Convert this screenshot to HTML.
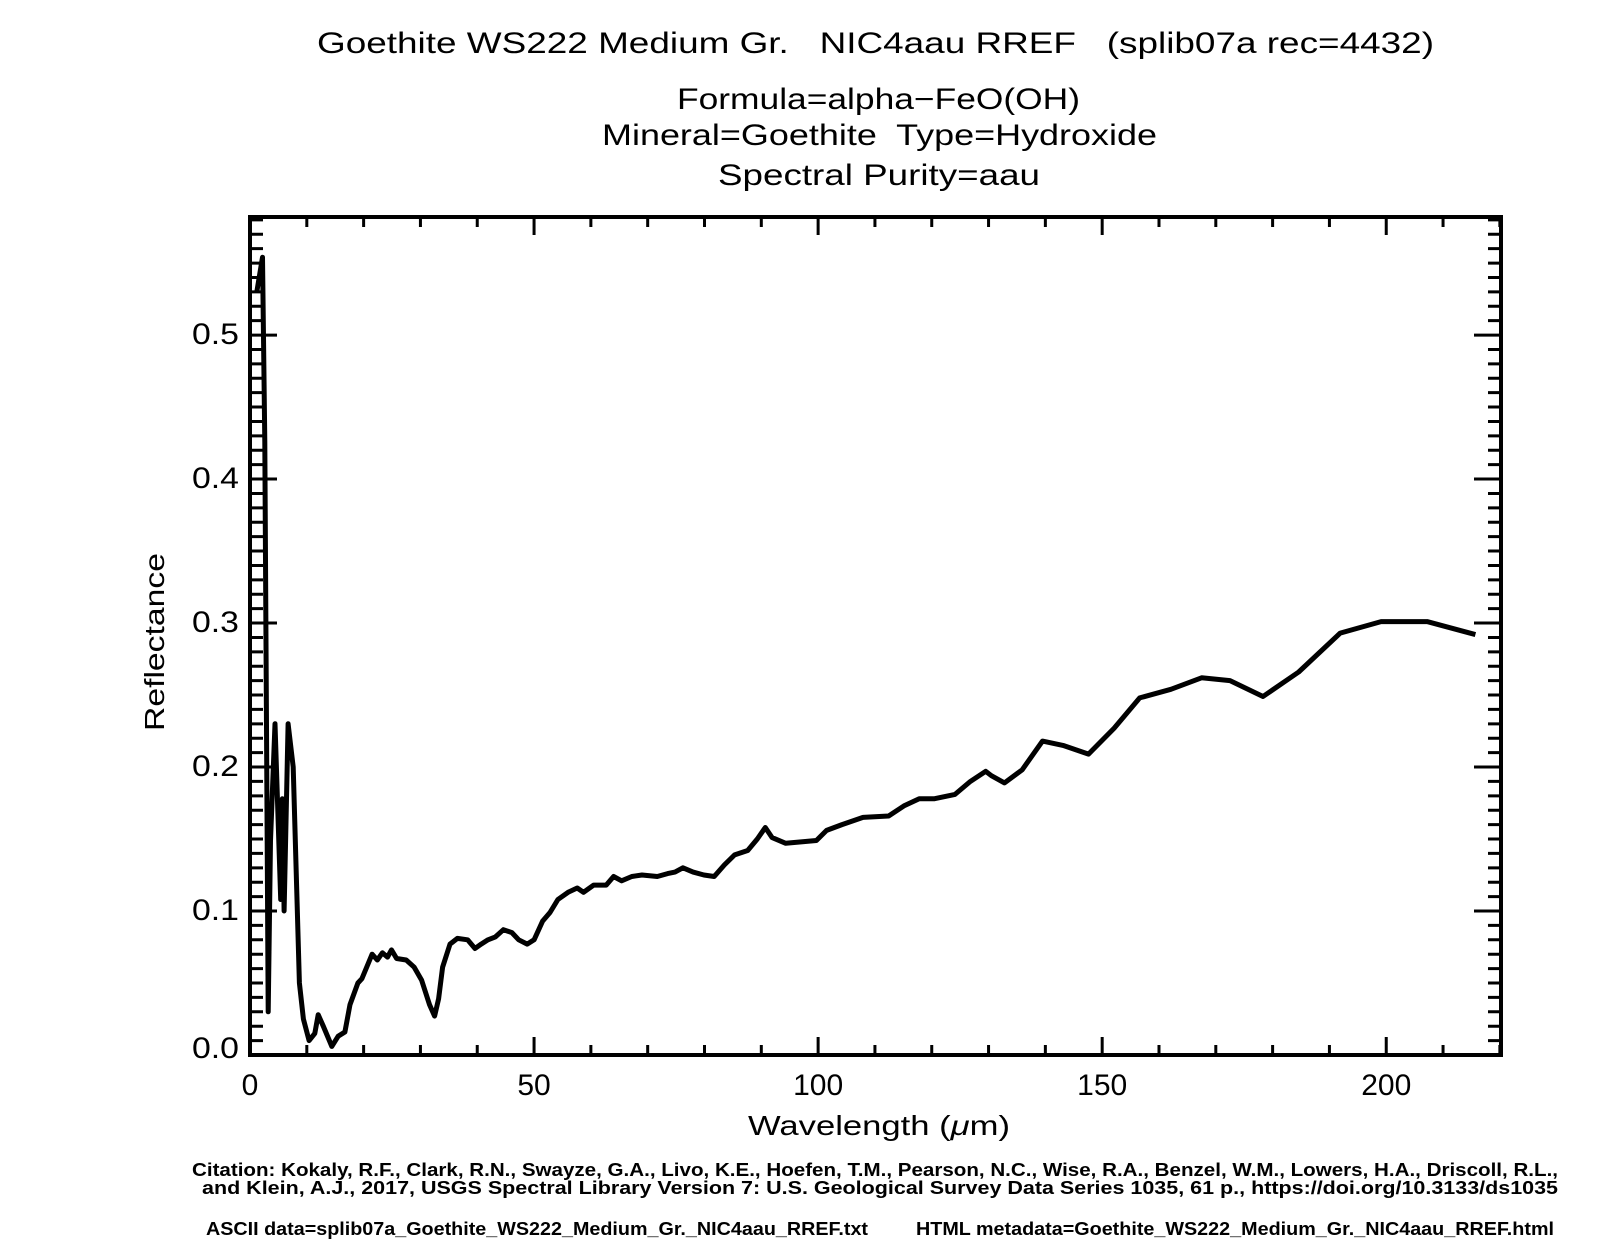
<!DOCTYPE html>
<html><head><meta charset="utf-8"><style>
body{margin:0;background:#fff}
svg{display:block}
text{font-family:"Liberation Sans",sans-serif;fill:#000}
</style></head><body>
<svg id="chart" width="1610" height="1260" xmlns="http://www.w3.org/2000/svg">
<g>
<text x="317" y="53" font-size="30" textLength="1117" lengthAdjust="spacingAndGlyphs" xml:space="preserve">Goethite WS222 Medium Gr.   NIC4aau RREF   (splib07a rec=4432)</text>
<text x="677" y="109" font-size="30" textLength="403" lengthAdjust="spacingAndGlyphs">Formula=alpha−FeO(OH)</text>
<text x="602" y="145" font-size="30" textLength="555" lengthAdjust="spacingAndGlyphs" xml:space="preserve">Mineral=Goethite  Type=Hydroxide</text>
<text x="718" y="185" font-size="30" textLength="322" lengthAdjust="spacingAndGlyphs">Spectral Purity=aau</text>
</g>
<g id="axes"></g>
<path id="line" fill="none" stroke="#000" stroke-width="5" stroke-linejoin="round"/>
<text transform="translate(164,642) rotate(-90)" font-size="28" text-anchor="middle" textLength="178" lengthAdjust="spacingAndGlyphs">Reflectance</text>
<text x="748" y="1135" font-size="28" textLength="262" lengthAdjust="spacingAndGlyphs">Wavelength (<tspan font-style="italic">μ</tspan>m)</text>
<g font-weight="bold" font-size="18">
<text x="192" y="1176" textLength="1366" lengthAdjust="spacingAndGlyphs">Citation: Kokaly, R.F., Clark, R.N., Swayze, G.A., Livo, K.E., Hoefen, T.M., Pearson, N.C., Wise, R.A., Benzel, W.M., Lowers, H.A., Driscoll, R.L.,</text>
<text x="202" y="1194" textLength="1356" lengthAdjust="spacingAndGlyphs">and Klein, A.J., 2017, USGS Spectral Library Version 7: U.S. Geological Survey Data Series 1035, 61 p., https://doi.org/10.3133/ds1035</text>
<text x="206" y="1235" textLength="662" lengthAdjust="spacingAndGlyphs">ASCII data=splib07a_Goethite_WS222_Medium_Gr._NIC4aau_RREF.txt</text>
<text x="916" y="1235" textLength="638" lengthAdjust="spacingAndGlyphs">HTML metadata=Goethite_WS222_Medium_Gr._NIC4aau_RREF.html</text>
</g>
</svg>
<script>
const wavelengths=[1.2,2.2,2.6,3.2,3.6,4.4,5.4,5.7,6.0,6.7,7.6,8.7,9.4,10.4,11.4,12.0,12.9,14.4,15.5,16.7,17.6,19.0,19.7,21.5,22.4,23.3,24.2,24.9,25.8,27.5,28.9,30.2,31.6,32.5,33.2,33.9,35.2,36.5,38.3,39.6,40.7,41.9,43.2,44.6,46.1,47.3,48.8,50,51.5,52.8,54.2,56,57.6,58.7,60.5,62.7,64,65.4,67.2,69,71.7,73.5,74.8,76.2,78,79.9,81.7,83.5,85.3,87.6,89.3,90.7,91.9,94.3,97,99.7,101.5,104.2,107.9,112.4,115.1,117.8,120.5,124.1,126.8,129.5,130.5,132.8,135.9,139.5,143.1,147.6,152.1,156.6,162.1,167.5,172.5,178.3,184.6,191.9,199.1,207.2,215.7];
const reflectance=[0.53,0.554,0.426,0.03,0.149,0.23,0.108,0.178,0.1,0.23,0.2,0.05,0.025,0.01,0.015,0.028,0.02,0.006,0.013,0.016,0.035,0.05,0.053,0.07,0.066,0.071,0.068,0.073,0.067,0.066,0.061,0.052,0.035,0.027,0.039,0.061,0.077,0.081,0.08,0.074,0.077,0.08,0.082,0.087,0.085,0.08,0.077,0.08,0.093,0.099,0.108,0.113,0.116,0.113,0.118,0.118,0.124,0.121,0.124,0.125,0.124,0.126,0.127,0.13,0.127,0.125,0.124,0.132,0.139,0.142,0.15,0.158,0.151,0.147,0.148,0.149,0.156,0.16,0.165,0.166,0.173,0.178,0.178,0.181,0.19,0.197,0.194,0.189,0.198,0.218,0.215,0.209,0.227,0.248,0.254,0.262,0.26,0.249,0.266,0.293,0.301,0.301,0.292];
const xTickValues=[0,50,100,150,200];
const xTickLabels=["0","50","100","150","200"];
const yTickValues=[0,0.1,0.2,0.3,0.4,0.5];
const yTickLabels=["0.0","0.1","0.2","0.3","0.4","0.5"];
const X0=250,X1=1501,Y0=1055,Y1=217,XMAX=220.2,YMAX=0.582;
const sx=v=>X0+v/XMAX*(X1-X0);
const sy=v=>Y0-v/YMAX*(Y0-Y1);
const NS="http://www.w3.org/2000/svg";
const axes=document.getElementById('axes');
function mk(tag,attrs){const e=document.createElementNS(NS,tag);for(const k in attrs)e.setAttribute(k,attrs[k]);axes.appendChild(e);return e;}
const frame=mk('rect',{x:X0,y:Y1,width:X1-X0,height:Y0-Y1,fill:'none',stroke:'#000','stroke-width':4});


for(let v=0;v<=XMAX;v+=10){
  const major=Math.round(v)%50===0,L=major?18:10,x=sx(v);
  const t=mk('path',{d:`M${x},${Y0}V${Y0-L}M${x},${Y1}V${Y1+L}`,stroke:'#000','stroke-width':3});
  
  
}
for(let i=0;i<=58;i++){
  const v=i/100,major=i%10===0,L=major?27:13,y=sy(v);
  const t=mk('path',{d:`M${X0},${y}H${X0+L}M${X1},${y}H${X1-L}`,stroke:'#000','stroke-width':3});
  
  
}
xTickValues.forEach((v,i)=>{
  const t=mk('text',{x:sx(v),y:1095,'font-size':30,'text-anchor':'middle'});
  t.textContent=xTickLabels[i];
  
  
});
yTickValues.forEach((v,i)=>{
  const t=mk('text',{x:192,y:sy(v)+(i===0?3:9),'font-size':30,textLength:47,lengthAdjust:'spacingAndGlyphs'});
  t.textContent=yTickLabels[i];
  
  
});
document.getElementById('line').setAttribute('d',wavelengths.map((w,i)=>(i?'L':'M')+sx(w).toFixed(1)+','+sy(reflectance[i]).toFixed(1)).join(''));
</script>
</body></html>
